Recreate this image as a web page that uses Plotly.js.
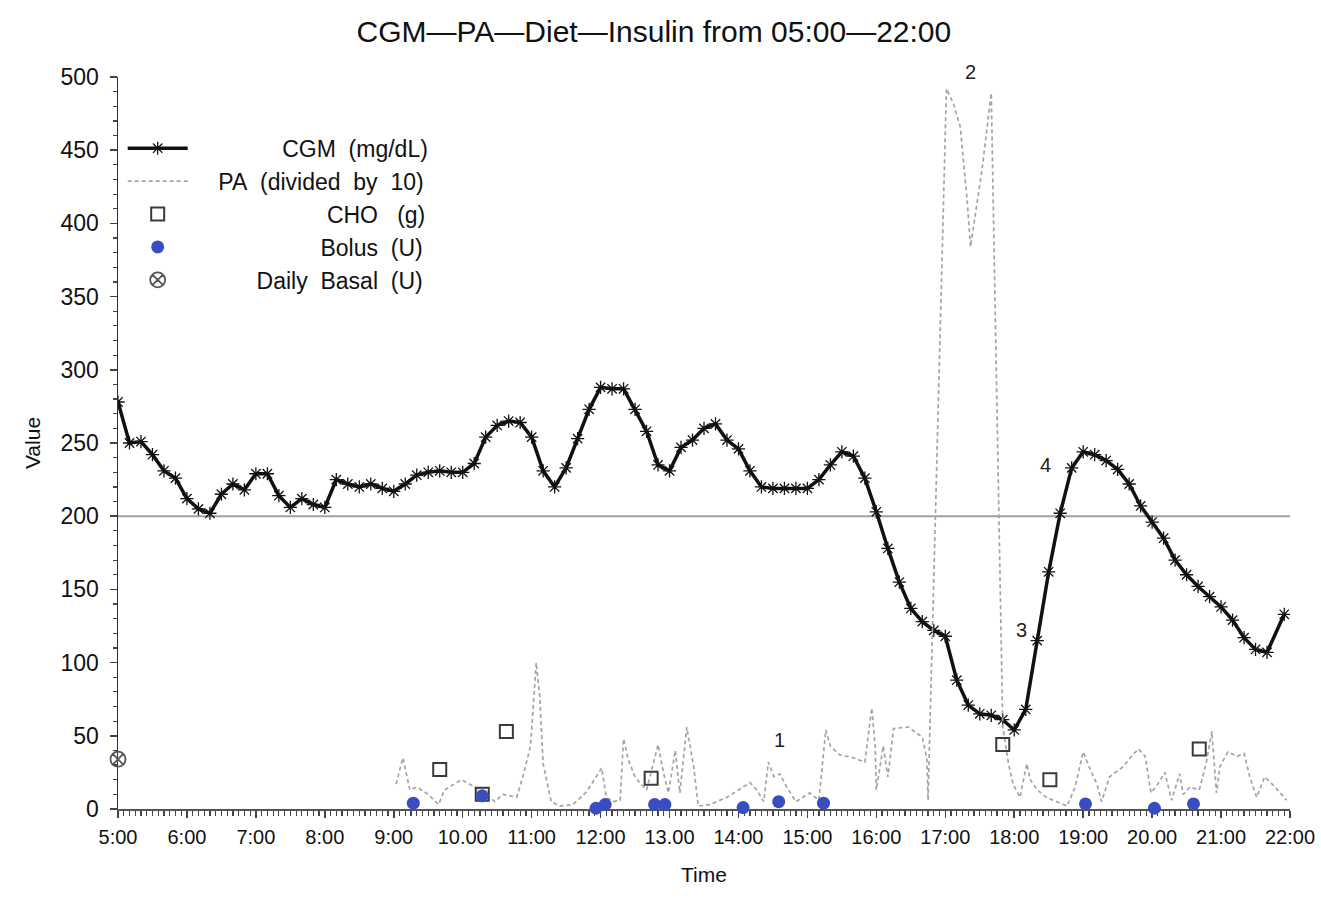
<!DOCTYPE html>
<html><head><meta charset="utf-8">
<script src="https://cdn.plot.ly/plotly-3.0.1.min.js"></script>
<style>html,body{margin:0;padding:0;background:#fff}</style>
</head><body><div id="chart" style="width:1321px;height:912px"></div>
<script>
// ---- data ----
const cgmTime = ["5:00","5:10","5:20","5:30","5:40","5:50","6:00","6:10","6:20","6:30","6:40","6:50",
"7:00","7:10","7:20","7:30","7:40","7:50","8:00","8:10","8:20","8:30","8:40","8:50",
"9:00","9:10","9:20","9:30","9:40","9:50","10:00","10:10","10:20","10:30","10:40","10:50",
"11:00","11:10","11:20","11:30","11:40","11:50","12:00","12:10","12:20","12:30","12:40","12:50",
"13:00","13:10","13:20","13:30","13:40","13:50","14:00","14:10","14:20","14:30","14:40","14:50",
"15:00","15:10","15:20","15:30","15:40","15:50","16:00","16:10","16:20","16:30","16:40","16:50",
"17:00","17:10","17:20","17:30","17:40","17:50","18:00","18:10","18:20","18:30","18:40","18:50",
"19:00","19:10","19:20","19:30","19:40","19:50","20:00","20:10","20:20","20:30","20:40","20:50",
"21:00","21:10","21:20","21:30","21:40","21:55"];
const cgmValue = [278,250,251,242,231,226,212,205,202,215,222,218,
229,229,214,206,212,208,206,225,222,220,222,219,
217,222,228,230,231,230,230,236,254,262,265,264,
254,231,220,233,253,273,288,287,287,273,258,235,
231,247,252,260,263,252,246,231,220,219,219,219,
219,225,235,244,241,226,203,178,155,137,128,122,
118,88,71,65,64,61,54,68,115,162,202,233,
244,242,238,232,222,207,196,185,170,160,152,145,
138,129,117,109,107,133];

const paTime = ["9:02","9:08","9:14","9:20","9:30","9:39","9:44","9:59","10:15","10:28","10:35","10:47",
"10:53","10:59","11:04","11:07","11:10","11:17","11:25","11:36","11:48","12:01","12:05","12:11",
"12:17","12:20","12:24","12:30","12:34","12:40","12:50","12:55","12:59","13:05","13:09","13:15",
"13:21","13:25","13:35","13:50","14:10","14:16","14:22","14:26","14:31","14:36","14:42","14:50",
"15:02","15:10","15:16","15:20","15:28","15:40","15:50","15:56","15:59","16:00","16:06","16:10",
"16:15","16:28","16:40","16:44","16:45","17:01","17:07","17:13","17:19","17:22","17:25","17:32",
"17:40","17:50","17:55","17:59","18:05","18:11","18:14","18:20","18:28","18:37","18:46","18:53",
"19:00","19:05","19:12","19:16","19:23","19:35","19:42","19:48","19:54","19:59","20:05","20:11",
"20:17","20:24","20:27","20:33","20:41","20:47","20:52","20:56","20:59","21:06","21:14","21:20",
"21:25","21:31","21:38","21:47","21:57"];
const paValue = [17,35,13,15,10,3,13,20,13,5,10,8,
24,43,100,77,31,5,2,3,12,28,8,5,
6,48,34,22,18,13,44,24,11,40,11,56,
29,2,3,8,18,13,5,32,22,24,15,5,
11,6,54,43,37,35,32,69,43,13,43,22,
55,56,49,34,6,492,482,466,416,384,400,437,
489,56,31,17,8,31,20,13,8,5,2,15,
39,29,17,5,22,29,36,41,36,11,17,25,
6,24,10,15,13,31,53,11,29,39,36,38,
22,8,22,15,6];

const choTime = ["9:40","10:17","10:38","12:44","17:50","18:31","20:41"];
const choValue = [27,10,53,21,44,20,41];

const bolusTime = ["9:17","10:17","11:56","12:04","12:47","12:56","14:04","14:35","15:14","19:02","20:02","20:36"];
const bolusValue = [4,9,0.5,3,3,3,1,5,4,3.5,0.5,3.5];

const basalTime = ["5:00"];
const basalValue = [34];

const refLevel = 200;

const legendLabels = ["CGM\u00a0\u00a0(mg/dL)", "PA\u00a0\u00a0(divided\u00a0\u00a0by\u00a0\u00a010)", "CHO\u00a0\u00a0\u00a0(g)", "Bolus\u00a0\u00a0(U)", "Daily\u00a0\u00a0Basal\u00a0\u00a0(U)"];

const eventLabels = ["1","3","4"];
const eventTime = ["14:36","18:06","18:27"];
const eventValue = [47,122,235];
const topEventLabel = "2";
const topEventTime = "17:22";

const hourTicks = [5,6,7,8,9,10,11,12,13,14,15,16,17,18,19,20,21,22];
const hourTickText = ["5:00","6:00","7:00","8:00","9:00","10.00","11:00","12:00","13.00","14:00","15:00","16:00","17:00","18:00","19:00","20.00","21:00","22:00"];
const valueTicks = [0,50,100,150,200,250,300,350,400,450,500];

// ---- helpers ----
function toHours(s){ const p = s.split(':').map(Number); return p[0] + p[1]/60; }

const FONT = "Liberation Sans, Arial, sans-serif";
const LEGEND_SIZE = 23;

// right-align legend labels by padding with non-breaking spaces
const ctx = document.createElement("canvas").getContext("2d");
ctx.font = LEGEND_SIZE + 'px "Liberation Sans", Arial, sans-serif';
const nbspW = ctx.measureText("\u00a0").width || LEGEND_SIZE * 0.278;
const legendTextSpan = 232;
function padLabel(s){
  const w = ctx.measureText(s).width;
  const n = Math.max(0, Math.round((legendTextSpan - w) / nbspW));
  return "\u00a0".repeat(n) + s;
}
const names = legendLabels.map(padLabel);

const traces = [
  {
    x: cgmTime.map(toHours), y: cgmValue, name: names[0],
    mode: "lines+markers", type: "scatter",
    line: {color: "#111", width: 3.5},
    marker: {symbol: "asterisk-open", size: 11, line: {color: "#555", width: 1.3}},
    legendgroup: "a"
  },
  {
    x: paTime.map(toHours), y: paValue, name: names[1],
    mode: "lines", type: "scatter",
    line: {color: "#a4a4a4", width: 1.7, dash: "4px,3px"},
    legendgroup: "b"
  },
  {
    x: choTime.map(toHours), y: choValue, name: names[2],
    mode: "markers", type: "scatter", cliponaxis: false,
    marker: {symbol: "square-open", size: 13, color: "#3a3a3a", line: {width: 2, color: "#3a3a3a"}},
    legendgroup: "c"
  },
  {
    x: bolusTime.map(toHours), y: bolusValue, name: names[3],
    mode: "markers", type: "scatter", cliponaxis: false,
    marker: {symbol: "circle", size: 13, color: "#3a4dc0"},
    legendgroup: "d"
  },
  {
    x: basalTime.map(toHours), y: basalValue, name: names[4],
    mode: "markers", type: "scatter", cliponaxis: false,
    marker: {symbol: "circle-x-open", size: 15, color: "#555", line: {width: 1.8, color: "#555"}},
    legendgroup: "e"
  }
];

const annotations = eventLabels.map((t, i) => ({
  x: toHours(eventTime[i]), y: eventValue[i], xref: "x", yref: "y",
  text: t, showarrow: false, font: {family: FONT, size: 20, color: "#222"}
}));
annotations.push({
  x: toHours(topEventTime), y: 1.007, xref: "x", yref: "paper", yanchor: "middle",
  text: topEventLabel, showarrow: false, font: {family: FONT, size: 20, color: "#222"}
});

const layout = {
  width: 1321, height: 912,
  paper_bgcolor: "#fff", plot_bgcolor: "#fff",
  margin: {l: 118, r: 31, t: 77, b: 103},
  title: {text: "CGM\u2014PA\u2014Diet\u2014Insulin from 05:00\u201422:00", x: 0.495, xref: "container",
          y: 0.965, yref: "container", yanchor: "middle",
          font: {family: FONT, size: 30, color: "#111"}},
  font: {family: FONT, color: "#111"},
  showlegend: true,
  legend: {x: 0.004, y: 0.932, xanchor: "left", yanchor: "top", bgcolor: "rgba(0,0,0,0)",
           font: {family: FONT, size: LEGEND_SIZE, color: "#111"}, itemwidth: 60,
           traceorder: "grouped", tracegroupgap: 0},
  xaxis: {
    range: [5, 22], tickmode: "array", tickvals: hourTicks, ticktext: hourTickText,
    ticks: "outside", ticklen: 7, tickwidth: 1.5, tickcolor: "#444",
    showline: true, linecolor: "#555", linewidth: 2, showgrid: false, zeroline: false,
    tickfont: {family: FONT, size: 20, color: "#111"}, ticklabelstandoff: 2,
    minor: {tickmode: "linear", tick0: 5, dtick: 1/12, ticks: "outside", ticklen: 5, tickwidth: 1.2, tickcolor: "#444", showgrid: false},
    title: {text: "Time", font: {family: FONT, size: 21, color: "#111"}, standoff: 20},
    layer: "below traces"
  },
  yaxis: {
    range: [0, 500], tickmode: "array", tickvals: valueTicks,
    ticks: "outside", ticklen: 7, tickwidth: 1.5, tickcolor: "#444",
    showline: true, linecolor: "#333", linewidth: 1.5, showgrid: false, zeroline: false,
    tickfont: {family: FONT, size: 23, color: "#111"}, ticklabelstandoff: 6,
    minor: {tickmode: "linear", tick0: 0, dtick: 10, ticks: "outside", ticklen: 4, tickwidth: 1.2, tickcolor: "#444", showgrid: false},
    title: {text: "Value", font: {family: FONT, size: 21, color: "#111"}, standoff: 14},
    layer: "below traces"
  },
  shapes: [{type: "line", xref: "paper", x0: 0, x1: 1, yref: "y", y0: refLevel, y1: refLevel,
            line: {color: "#a0a0a0", width: 2}, layer: "below"}],
  annotations: annotations
};

Plotly.newPlot("chart", traces, layout, {displayModeBar: false, staticPlot: true});
</script>
</body></html>
